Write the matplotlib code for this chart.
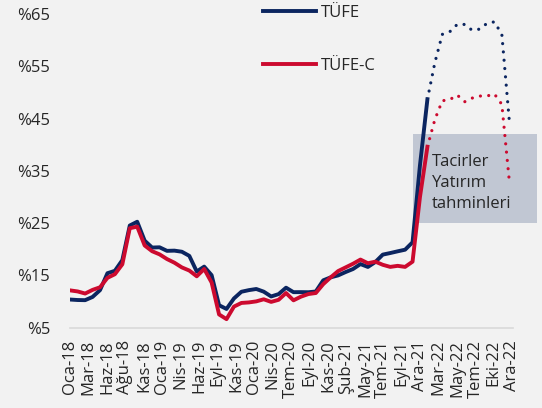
import numpy as np
import matplotlib
matplotlib.use("Agg")
import matplotlib.pyplot as plt
from matplotlib.patches import Rectangle

plt.rcParams['font.family'] = ['Open Sans', 'DejaVu Sans']

# ---- data ----
tufe = [10.35, 10.26, 10.23, 10.85, 12.15, 15.39, 15.85, 17.90, 24.52, 25.24, 21.62, 20.30,
        20.35, 19.67, 19.71, 19.50, 18.71, 15.72, 16.65, 15.01, 9.26, 8.55, 10.56, 11.84,
        12.15, 12.37, 11.86, 10.94, 11.39, 12.62, 11.76, 11.77, 11.75, 11.89, 14.03, 14.60,
        14.97, 15.61, 16.19, 17.14, 16.59, 17.53, 18.95, 19.25, 19.58, 19.89, 21.31, 36.08,
        48.69]
tufec = [12.1, 11.9, 11.5, 12.2, 12.7, 14.5, 15.2, 17.1, 24.0, 24.3, 20.7, 19.6,
         19.0, 18.1, 17.4, 16.5, 15.9, 14.8, 16.2, 13.6, 7.5, 6.6, 9.0, 9.7,
         9.8, 10.0, 10.4, 9.9, 10.3, 11.6, 10.2, 10.9, 11.4, 11.6, 13.3, 14.6,
         15.8, 16.5, 17.2, 18.0, 17.3, 17.6, 17.0, 16.6, 16.8, 16.6, 17.6, 30.0,
         39.6]
# forecasts (Oca-22 .. Ara-22)
tufe_fc = [48.69, 55.7, 61.1, 61.6, 63.0, 63.0, 61.9, 62.1, 63.2, 63.5, 61.1, 44.6]
tufec_fc = [39.6, 44.8, 48.4, 48.6, 49.5, 48.2, 48.9, 49.3, 49.3, 49.7, 47.7, 33.1]

xt_labels = ["Oca-18", "Mar-18", "Haz-18", "Ağu-18", "Kas-18", "Oca-19", "Nis-19", "Haz-19",
             "Eyl-19", "Kas-19", "Oca-20", "Nis-20", "Tem-20", "Eyl-20", "Kas-20", "Şub-21",
             "May-21", "Tem-21", "Eyl-21", "Ara-21", "Mar-22", "May-22", "Tem-22", "Eki-22",
             "Ara-22"]
yticks = [5, 15, 25, 35, 45, 55, 65]

navy = "#0B2560"
red = "#CC0A2F"
bg = "#F2F2F2"

W, H = 542, 408
fig = plt.figure(figsize=(W / 100, H / 100), dpi=100, facecolor=bg)
ax = fig.add_axes([69.5 / W, 1 - 327.5 / H, (513 - 69.5) / W, (327.5 - 14) / H])
ax.set_facecolor(bg)

x_hist = np.arange(len(tufe))
x_fc = np.arange(len(tufe) - 1, len(tufe) - 1 + len(tufe_fc))

ax.plot(x_hist, tufe, color=navy, lw=2.8, solid_joinstyle='round', zorder=4, label="TÜFE")
ax.plot(x_hist, tufec, color=red, lw=2.8, solid_joinstyle='round', zorder=5, label="TÜFE-C")
ax.plot(x_fc, tufe_fc, color=navy, lw=2.3, linestyle=(0, (0.01, 2.6)),
        dash_capstyle='round', zorder=4)
ax.plot(x_fc, tufec_fc, color=red, lw=2.3, linestyle=(0, (0.01, 2.6)),
        dash_capstyle='round', zorder=5)

ax.set_xlim(-0.1, 59.5)
ax.set_ylim(5, 65)
ax.set_yticks(yticks)
ax.set_yticklabels([f"%{v}" for v in yticks])
ax.set_xticks(np.linspace(0, 59.4, len(xt_labels)))
ax.set_xticklabels(xt_labels, rotation=90)
ax.tick_params(axis='y', length=0, pad=14, labelsize=12, labelcolor="#262626")
ax.tick_params(axis='x', length=0, pad=9, labelsize=12, labelcolor="#262626")
for s in ['top', 'right', 'left']:
    ax.spines[s].set_visible(False)
ax.spines['bottom'].set_color("#D9D9D9")
ax.spines['bottom'].set_linewidth(1.2)

# forecast box
ax.add_patch(Rectangle((413 / W, 1 - 223 / H), (537 - 413) / W, (223 - 134) / H,
                       transform=fig.transFigure, facecolor="#C1C7D3", edgecolor='none',
                       clip_on=False, zorder=1))
fig.text(432 / W, 1 - 183 / H, "Tacirler\nYatırım\ntahminleri", ha='left', va='center',
         fontsize=12, color="#262626", linespacing=1.45)

fig.legend(loc='upper left', bbox_to_anchor=(263 / W, 1 - 5 / H), frameon=False,
           borderpad=0, borderaxespad=0, labelspacing=2.2, handlelength=3.2,
           handletextpad=0.3, fontsize=12, labelcolor="#262626")

fig.savefig("out.png", dpi=100, facecolor=bg)
